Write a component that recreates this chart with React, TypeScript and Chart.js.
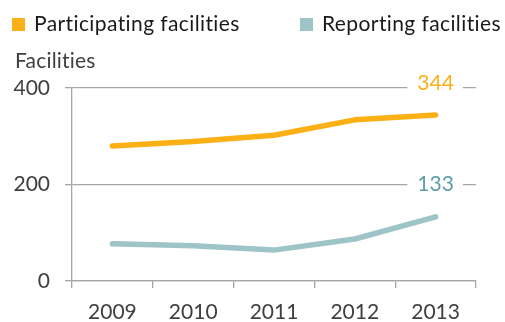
import React, { useEffect, useRef } from 'react';
import { Chart, registerables } from 'chart.js';

Chart.register(...registerables);

const years = ['2009', '2010', '2011', '2012', '2013'];
const participating = [280, 289, 302, 334, 344];
const reporting = [77, 73, 64, 87, 133];
const seriesNames = ['Participating facilities', 'Reporting facilities'];
const seriesColors = ['#FBB116', '#9EC4C8'];
const endLabelColors = ['#F9B11A', '#5E9EA9'];
const endLabelValues = [344, 133];
const endLabelAnchors = [410, 200];
const yTickValues = [0, 200, 400];
const axisTitle = 'Facilities';

const FONT = 'Lato, "Open Sans", sans-serif';
const TEXT = '#404040';
const GRID = '#A6A6A6';

const overlayPlugin = {
  id: 'overlay',
  afterDatasetsDraw(chart: any) {
    const ctx = chart.ctx;
    const xs = chart.scales.x;
    const ys = chart.scales.y;
    ctx.save();
    ctx.font = `21px ${FONT}`;
    ctx.textAlign = 'center';
    ctx.textBaseline = 'middle';
    endLabelValues.forEach((v, i) => {
      const x = xs.getPixelForValue(years.length - 1);
      const y = ys.getPixelForValue(endLabelAnchors[i]);
      const w = ctx.measureText(String(v)).width;
      ctx.fillStyle = '#FFFFFF';
      ctx.fillRect(x - w / 2 - 10, y - 10, w + 19, 20);
      ctx.fillStyle = endLabelColors[i];
      ctx.fillText(String(v), x, y);
    });
    ctx.restore();
  },
  afterDraw(chart: any) {
    const ctx = chart.ctx;
    ctx.save();
    ctx.font = `21px ${FONT}`;
    ctx.textBaseline = 'alphabetic';
    ctx.textAlign = 'left';
    const legendX = [12, 300];
    (ctx as any).letterSpacing = '0.4px';
    seriesNames.forEach((name, i) => {
      ctx.fillStyle = seriesColors[i];
      ctx.fillRect(legendX[i], 18, 13, 13);
      ctx.fillStyle = '#1A1A1A';
      ctx.fillText(name, legendX[i] + 22, 31);
    });
    (ctx as any).letterSpacing = '0.2px';
    ctx.fillStyle = TEXT;
    ctx.fillText(axisTitle, 15, 68);
    ctx.restore();
  },
};

export default function App() {
  const ref = useRef<HTMLCanvasElement>(null);
  useEffect(() => {
    if (!ref.current) return;
    const chart = new Chart(ref.current, {
      type: 'line',
      data: {
        labels: years,
        datasets: [
          {
            label: seriesNames[0],
            data: participating,
            borderColor: seriesColors[0],
            backgroundColor: seriesColors[0],
            borderWidth: 5.5,
            borderCapStyle: 'round',
            borderJoinStyle: 'round',
            pointRadius: 0,
            tension: 0,
          },
          {
            label: seriesNames[1],
            data: reporting,
            borderColor: seriesColors[1],
            backgroundColor: seriesColors[1],
            borderWidth: 5.5,
            borderCapStyle: 'round',
            borderJoinStyle: 'round',
            pointRadius: 0,
            tension: 0,
          },
        ],
      },
      options: {
        responsive: false,
        animation: false,
        events: [],
        layout: { padding: { top: 88, right: 29, left: 0, bottom: 0 } },
        plugins: {
          legend: { display: false },
          title: { display: false },
          tooltip: { enabled: false },
        },
        scales: {
          x: {
            type: 'category',
            offset: true,
            grid: {
              offset: true,
              drawOnChartArea: false,
              drawTicks: true,
              tickLength: 7,
              color: GRID,
              lineWidth: 1.3,
            },
            border: { color: GRID, width: 1.3 },
            ticks: {
              font: { family: FONT, size: 21 },
              color: TEXT,
              padding: 12,
              maxRotation: 0,
            },
            afterFit: (s: any) => {
              s.height = 41;
            },
          },
          y: {
            min: 0,
            max: 400,
            afterBuildTicks: (s: any) => {
              s.ticks = yTickValues.map((v) => ({ value: v }));
            },
            grid: {
              color: GRID,
              lineWidth: 1.3,
              drawTicks: true,
              tickLength: 7,
            },
            border: { color: GRID, width: 1.3 },
            ticks: {
              font: { family: FONT, size: 21 },
              color: TEXT,
              padding: 15,
            },
            afterFit: (s: any) => {
              s.width = 72;
            },
          },
        },
      },
      plugins: [overlayPlugin],
    } as any);
    return () => chart.destroy();
  }, []);
  return (
    <div style={{ position: 'absolute', left: 0, top: 0, width: 505, height: 322, background: '#fff' }}>
      <canvas ref={ref} width={505} height={322} />
    </div>
  );
}
